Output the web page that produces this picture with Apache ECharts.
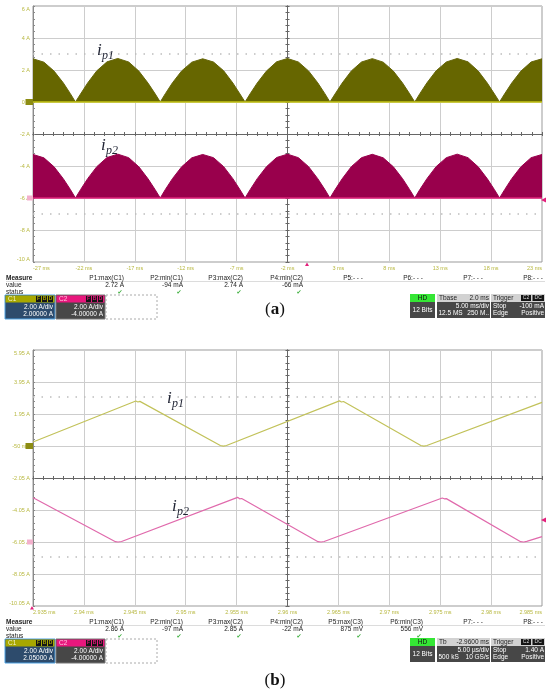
<!DOCTYPE html>
<html>
<head>
<meta charset="utf-8">
<script src="https://cdn.jsdelivr.net/npm/echarts@6/dist/echarts.min.js"></script>
<style>
html, body { margin: 0; padding: 0; background: #fff; }
#chart { width: 550px; height: 695px; }
</style>
</head>
<body>
<div id="chart"></div>
<script>
// tick labels (one per division)
var xTicksA = ['-27 ms', '-22 ms', '-17 ms', '-12 ms', '-7 ms', '-2 ms', '3 ms', '8 ms', '13 ms', '18 ms', '23 ms'];
var yTicksA = ['-10 A', '-8 A', '-6 A', '-4 A', '-2 A', '0 A', '2 A', '4 A', '6 A'];
var xTicksB = ['2.935 ms', '2.94 ms', '2.945 ms', '2.95 ms', '2.955 ms', '2.96 ms', '2.965 ms', '2.97 ms', '2.975 ms', '2.98 ms', '2.985 ms'];
var yTicksB = ['-10.05 A', '-8.05 A', '-6.05 A', '-4.05 A', '-2.05 A', '-50 mA', '1.95 A', '3.95 A', '5.95 A'];

// (a) envelope of the currents, [time ms, current A]
var ip1A = [
  [-27.00, 2.70], [-25.93, 2.49], [-24.93, 1.93], [-24.03, 1.20], [-23.33, 0.52], [-22.83, 0.00],
  [-22.33, 0.50], [-21.63, 1.19], [-20.73, 1.95], [-19.73, 2.51], [-18.67, 2.72], [-17.60, 2.50], [-16.60, 1.93], [-15.70, 1.18], [-15.00, 0.51], [-14.50, 0.00],
  [-14.00, 0.52], [-13.30, 1.20], [-12.40, 1.94], [-11.40, 2.49], [-10.33, 2.70], [-9.27, 2.50], [-8.27, 1.95], [-7.37, 1.19], [-6.67, 0.50], [-6.17, 0.00],
  [-5.67, 0.51], [-4.97, 1.19], [-4.07, 1.93], [-3.07, 2.51], [-2.00, 2.72], [-0.93, 2.50], [0.07, 1.94], [0.97, 1.20], [1.67, 0.52], [2.17, 0.00],
  [2.67, 0.50], [3.37, 1.18], [4.27, 1.94], [5.27, 2.50], [6.33, 2.71], [7.40, 2.49], [8.40, 1.93], [9.30, 1.19], [10.00, 0.51], [10.50, 0.00],
  [11.00, 0.52], [11.70, 1.20], [12.60, 1.95], [13.60, 2.50], [14.67, 2.72], [15.73, 2.51], [16.73, 1.94], [17.63, 1.18], [18.33, 0.50], [18.83, 0.00],
  [19.33, 0.51], [20.03, 1.19], [20.93, 1.93], [21.93, 2.50], [23.00, 2.70]
];
var ip2A = [
  [-27.00, 2.72], [-25.93, 2.51], [-24.93, 1.95], [-24.03, 1.21], [-23.33, 0.53], [-22.83, 0.00],
  [-22.33, 0.52], [-21.63, 1.21], [-20.73, 1.96], [-19.73, 2.53], [-18.67, 2.74], [-17.60, 2.52], [-16.60, 1.95], [-15.70, 1.20], [-15.00, 0.52], [-14.50, 0.00],
  [-14.00, 0.53], [-13.30, 1.21], [-12.40, 1.95], [-11.40, 2.51], [-10.33, 2.72], [-9.27, 2.52], [-8.27, 1.96], [-7.37, 1.21], [-6.67, 0.52], [-6.17, 0.00],
  [-5.67, 0.52], [-4.97, 1.21], [-4.07, 1.95], [-3.07, 2.53], [-2.00, 2.74], [-0.93, 2.52], [0.07, 1.96], [0.97, 1.21], [1.67, 0.53], [2.17, 0.00],
  [2.67, 0.52], [3.37, 1.20], [4.27, 1.96], [5.27, 2.52], [6.33, 2.73], [7.40, 2.51], [8.40, 1.95], [9.30, 1.21], [10.00, 0.52], [10.50, 0.00],
  [11.00, 0.53], [11.70, 1.21], [12.60, 1.96], [13.60, 2.52], [14.67, 2.74], [15.73, 2.52], [16.73, 1.95], [17.63, 1.20], [18.33, 0.52], [18.83, 0.00],
  [19.33, 0.52], [20.03, 1.21], [20.93, 1.95], [21.93, 2.52], [23.00, 2.72]
];

// (b) switching-period currents, [time ms, current A]
var ip1B = [
  [2.9350, 0.20], [2.9451, 2.76], [2.9452, 2.86], [2.9453, 2.70], [2.9454, 2.80], [2.9455, 2.74],
  [2.9534, -0.02], [2.9537, -0.06], [2.9540, -0.02],
  [2.9651, 2.77], [2.9652, 2.85], [2.9653, 2.70], [2.9654, 2.79], [2.9655, 2.73],
  [2.9731, -0.02], [2.9734, -0.06], [2.9737, -0.02], [2.9850, 2.68]
];
var ip2B = [
  [2.9350, 2.76], [2.9351, 2.85], [2.9352, 2.70], [2.9353, 2.75],
  [2.9431, 0.02], [2.94335, 0.00], [2.9437, 0.03],
  [2.9551, 2.79], [2.9552, 2.85], [2.9553, 2.70], [2.9554, 2.78], [2.9555, 2.72],
  [2.9630, 0.02], [2.9633, 0.00], [2.9636, 0.03],
  [2.9752, 2.75], [2.9753, 2.84], [2.9754, 2.70], [2.9755, 2.76], [2.9756, 2.71],
  [2.9829, 0.02], [2.9832, 0.00], [2.9835, 0.04], [2.9850, 0.34]
];

// measurement / status texts
var measNamesA = ['P1:max(C1)', 'P2:min(C1)', 'P3:max(C2)', 'P4:min(C2)', 'P5:- - -', 'P6:- - -', 'P7:- - -', 'P8:- - -'];
var measValsA = ['2.72 A', '-94 mA', '2.74 A', '-66 mA', '', '', '', ''];
var measNamesB = ['P1:max(C1)', 'P2:min(C1)', 'P3:max(C2)', 'P4:min(C2)', 'P5:max(C3)', 'P6:min(C3)', 'P7:- - -', 'P8:- - -'];
var measValsB = ['2.86 A', '-97 mA', '2.85 A', '-22 mA', '875 mV', '556 mV', '', ''];
var chanA = [['2.00 A/div', '2.00000 A'], ['2.00 A/div', '-4.00000 A']];
var chanB = [['2.00 A/div', '2.05000 A'], ['2.00 A/div', '-4.00000 A']];
var tbaseA = ['Tbase', '2.0 ms', '5.00 ms/div', '12.5 MS', '250 M..'];
var tbaseB = ['Tb', '-2.9600 ms', '5.00 \u00b5s/div', '500 kS', '10 GS/s'];
var trigA = ['-100 mA', 'Positive'];
var trigB = ['1.40 A', 'Positive'];

// scope scales: offset of C2 zero, time/amp per division
var panelA = { t0: -27, tDiv: 5, v0: -10, vDiv: 2, c2Zero: -6 };
var panelB = { t0: 2.935, tDiv: 0.005, v0: -10.05, vDiv: 2, c2Zero: -6.05 };

var FONT = 'Liberation Sans';
var LBL = '#b8b840';

function toDiv(p, pts, zero) {
    return pts.map(function (d) {
        var x = Math.round((d[0] - p.t0) / p.tDiv * 10000) / 10000;
        return [x, (d[1] + zero - p.v0) / p.vDiv];
    });
}
function levelDiv(p, v) { return (v - p.v0) / p.vDiv; }

function xMain(grid, labels) {
    return {
        type: 'value', gridIndex: grid, min: 0, max: 10, interval: 1, position: 'bottom',
        axisLine: { show: false, onZero: false }, axisTick: { show: false },
        axisLabel: {
            fontSize: 5.5, color: LBL, margin: 3, fontFamily: FONT,
            alignMinLabel: 'left', alignMaxLabel: 'right',
            formatter: function (v) { return labels[Math.round(v)]; }
        },
        splitLine: { show: true, lineStyle: { color: '#cdcdcd', width: 1 } }
    };
}
function yMain(grid, labels) {
    return {
        type: 'value', gridIndex: grid, min: 0, max: 8, interval: 1, position: 'left',
        axisLine: { show: true, onZero: false, lineStyle: { color: '#8a8a8a' } },
        axisTick: { show: true, inside: true, length: 2, lineStyle: { color: '#8a8a8a' } },
        minorTick: { show: true, splitNumber: 5, length: 2, lineStyle: { color: '#8a8a8a' } },
        axisLabel: {
            fontSize: 5.5, color: LBL, margin: 3, fontFamily: FONT,
            verticalAlignMinLabel: 'bottom', verticalAlignMaxLabel: 'top',
            formatter: function (v) { return labels[Math.round(v)]; }
        },
        splitLine: { show: true, lineStyle: { color: '#cdcdcd', width: 1 } }
    };
}
function xCenter(grid, yIdx, inside) {
    return {
        type: 'value', gridIndex: grid, min: -5, max: 5, interval: 1, position: 'bottom',
        axisLine: { show: true, onZero: true, onZeroAxisIndex: yIdx, lineStyle: { color: '#666' } },
        axisTick: { show: true, inside: inside, length: 2, lineStyle: { color: '#666' } },
        minorTick: { show: true, splitNumber: 5, length: 2, lineStyle: { color: '#666' } },
        axisLabel: { show: false }, splitLine: { show: false }
    };
}
function yCenter(grid, xIdx, inside) {
    return {
        type: 'value', gridIndex: grid, min: -4, max: 4, interval: 1, position: 'left',
        axisLine: { show: true, onZero: true, onZeroAxisIndex: xIdx, lineStyle: { color: '#666' } },
        axisTick: { show: true, inside: inside, length: 2, lineStyle: { color: '#666' } },
        minorTick: { show: true, splitNumber: 5, length: 2, lineStyle: { color: '#666' } },
        axisLabel: { show: false }, splitLine: { show: false }
    };
}

function dotted(p) {
    var st = { color: '#bdbdbd', width: 1.5, type: [1.5, 7] };
    return [
        { yAxis: levelDiv(p, -2 + 5), lineStyle: st },
        { yAxis: levelDiv(p, -2 - 5 - (p.v0 + 10)), lineStyle: st }
    ];
}

// ---- graphic helpers
function T(x, y, s, o) {
    o = o || {};
    return {
        type: 'text', x: x, y: y, silent: true, z: 10,
        style: {
            text: s, fontSize: o.size || 6.5, fontFamily: o.font || FONT,
            fontWeight: o.weight || 'normal', fontStyle: o.style || 'normal',
            fill: o.fill || '#222', align: o.align || 'left', verticalAlign: 'middle'
        }
    };
}
function R(x, y, w, h, fill, stroke, dash) {
    return {
        type: 'rect', silent: true, z: 9, shape: { x: x, y: y, width: w, height: h },
        style: { fill: fill || 'none', stroke: stroke || null, lineWidth: 1, lineDash: dash || null }
    };
}
function tri(pts, color) {
    return { type: 'polygon', silent: true, z: 9, shape: { points: pts }, style: { fill: color } };
}

var colRight = [124, 183, 243, 303, 363, 423, 483, 543];
var els = [];

function footer(y0, names, vals, chan, tb, trig) {
    els.push(T(6, y0, 'Measure', { weight: 'bold' }));
    els.push(T(6, y0 + 7, 'value'));
    els.push(T(6, y0 + 14, 'status'));
    els.push({ type: 'line', silent: true, z: 9, shape: { x1: 6, y1: y0 + 3.5, x2: 545, y2: y0 + 3.5 }, style: { stroke: '#c4c4c4', lineWidth: 0.6 } });
    names.forEach(function (n, i) {
        els.push(T(colRight[i], y0, n, { align: 'right' }));
        if (vals[i]) {
            els.push(T(colRight[i], y0 + 7, vals[i], { align: 'right' }));
            els.push(T(colRight[i] - 4, y0 + 14, '\u2714', { align: 'center', size: 6, fill: '#3aae3a', font: 'DejaVu Sans' }));
        }
    });
    var by = y0 + 17;
    // C1
    els.push(R(5, by, 50, 24, '#2d4b6c', '#4ea2e2'));
    els.push(R(5.5, by + 0.5, 49, 7, '#a8a800'));
    els.push(T(8, by + 4, 'C1', { fill: '#f2f2c8' }));
    // C2
    els.push(R(56, by, 49, 24, '#474747', '#777'));
    els.push(R(56.5, by + 0.5, 48, 7, '#e8177d'));
    els.push(T(59, by + 4, 'C2', { fill: '#ffc4df' }));
    for (var k = 0; k < 3; k++) {
        els.push(R(36 + k * 6, by + 1, 5, 6, '#151515'));
        els.push(T(38.5 + k * 6, by + 4, 'FBD'[k], { size: 5, weight: 'bold', align: 'center', fill: '#a8a800' }));
        els.push(R(86 + k * 6, by + 1, 5, 6, '#151515'));
        els.push(T(88.5 + k * 6, by + 4, 'FBD'[k], { size: 5, weight: 'bold', align: 'center', fill: '#e8177d' }));
    }
    els.push(T(53, by + 12, chan[0][0], { fill: '#fff', align: 'right' }));
    els.push(T(53, by + 19, chan[0][1], { fill: '#fff', align: 'right' }));
    els.push(T(103, by + 12, chan[1][0], { fill: '#fff', align: 'right' }));
    els.push(T(103, by + 19, chan[1][1], { fill: '#fff', align: 'right' }));
    els.push(R(106, by, 51, 24, null, '#aaa', [2, 2]));

    var b2 = by - 1;
    // HD
    els.push(R(410, b2, 25, 8, '#35e635'));
    els.push(T(422.5, b2 + 4, 'HD', { align: 'center', fill: '#111' }));
    els.push(R(410, b2 + 8, 25, 16, '#474747'));
    els.push(T(422.5, b2 + 16, '12 Bits', { align: 'center', fill: '#fff' }));
    // time base
    els.push(R(437, b2, 53, 8, '#d2d2d2'));
    els.push(T(439, b2 + 4, tb[0]));
    els.push(T(489, b2 + 4, tb[1], { align: 'right' }));
    els.push(R(437, b2 + 8, 53, 16, '#474747'));
    els.push(T(489, b2 + 12, tb[2], { align: 'right', fill: '#fff' }));
    els.push(T(438.5, b2 + 19.5, tb[3], { fill: '#fff' }));
    els.push(T(489, b2 + 19.5, tb[4], { align: 'right', fill: '#fff' }));
    // trigger
    els.push(R(491, b2, 54, 8, '#d2d2d2'));
    els.push(T(493, b2 + 4, 'Trigger'));
    els.push(R(521, b2 + 1, 10, 6, '#151515'));
    els.push(T(526, b2 + 4, 'C2', { size: 5, align: 'center', fill: '#ddd' }));
    els.push(R(532.5, b2 + 1, 11.5, 6, '#151515'));
    els.push(T(538.2, b2 + 4, 'DC', { size: 5, align: 'center', fill: '#ddd' }));
    els.push(R(491, b2 + 8, 54, 16, '#474747'));
    els.push(T(493, b2 + 12, 'Stop', { fill: '#fff' }));
    els.push(T(544, b2 + 12, trig[0], { align: 'right', fill: '#fff' }));
    els.push(T(493, b2 + 19.5, 'Edge', { fill: '#fff' }));
    els.push(T(544, b2 + 19.5, trig[1], { align: 'right', fill: '#fff' }));
}

function caption(y, letter) {
    els.push({
        type: 'text', x: 275, y: y, silent: true, z: 10,
        style: {
            text: '{n|(}{b|' + letter + '}{n|)}', align: 'center', verticalAlign: 'middle',
            rich: {
                n: { fontSize: 17, fontFamily: 'Liberation Serif', fill: '#111' },
                b: { fontSize: 17, fontFamily: 'Liberation Serif', fontWeight: 'bold', fill: '#111' }
            }
        }
    });
}
function ipLabel(x, y, sub) {
    els.push(T(x, y, 'i', { font: 'Liberation Serif', style: 'italic', size: 17, fill: '#1e2232' }));
    els.push(T(x + 5, y + 5, sub, { font: 'Liberation Serif', style: 'italic', size: 12, fill: '#1e2232' }));
}

footer(278, measNamesA, measValsA, chanA, tbaseA, trigA);
footer(622, measNamesB, measValsB, chanB, tbaseB, trigB);
caption(310, 'a');
caption(681, 'b');
ipLabel(97, 51, 'p1');
ipLabel(101, 146, 'p2');
ipLabel(167, 399, 'p1');
ipLabel(172, 507, 'p2');

// channel / trigger markers
els.push(R(25.5, 99, 7.5, 6, '#8c8c12'));
els.push(R(27, 195.5, 6, 5, '#f3b0cc'));
els.push(tri([[541, 200], [546, 197.5], [546, 202.5]], '#e3207c'));
els.push(tri([[307, 262.5], [305, 266], [309, 266]], '#e3207c'));
els.push(R(25.5, 443, 7.5, 6, '#8c8c12'));
els.push(R(27, 539.5, 6, 5, '#f3b0cc'));
els.push(tri([[541, 520], [546, 517.5], [546, 522.5]], '#e3207c'));
els.push(tri([[32, 606], [30, 609.5], [34, 609.5]], '#e3207c'));

var chart = echarts.init(document.getElementById('chart'));
var option = {
    animation: false,
    backgroundColor: '#fff',
    grid: [
        { left: 33, top: 6, width: 509, height: 256, show: true, borderColor: '#9a9a9a', borderWidth: 1 },
        { left: 33, top: 350, width: 509, height: 256, show: true, borderColor: '#9a9a9a', borderWidth: 1 }
    ],
    xAxis: [
        xMain(0, xTicksA), xCenter(0, 1, true), xCenter(0, 1, false),
        xMain(1, xTicksB), xCenter(1, 4, true), xCenter(1, 4, false)
    ],
    yAxis: [
        yMain(0, yTicksA), yCenter(0, 1, true), yCenter(0, 1, false),
        yMain(1, yTicksB), yCenter(1, 4, true), yCenter(1, 4, false)
    ],
    series: [
        {
            name: 'ip1 (a)', type: 'line', xAxisIndex: 0, yAxisIndex: 0,
            data: toDiv(panelA, ip1A, 0), showSymbol: false, silent: true,
            lineStyle: { color: '#66660a', width: 1 },
            areaStyle: { color: '#666600', opacity: 1, origin: levelDiv(panelA, 0) },
            markLine: {
                silent: true, symbol: 'none', label: { show: false },
                data: [{ yAxis: levelDiv(panelA, 0), lineStyle: { color: '#c6c614', width: 1.5, type: 'solid' } }].concat(dotted(panelA))
            }
        },
        {
            name: 'ip2 (a)', type: 'line', xAxisIndex: 0, yAxisIndex: 0,
            data: toDiv(panelA, ip2A, panelA.c2Zero), showSymbol: false, silent: true,
            lineStyle: { color: '#99004c', width: 1 },
            areaStyle: { color: '#99004c', opacity: 1, origin: levelDiv(panelA, panelA.c2Zero) },
            markLine: {
                silent: true, symbol: 'none', label: { show: false },
                data: [{ yAxis: levelDiv(panelA, panelA.c2Zero), lineStyle: { color: '#e0207a', width: 1.5, type: 'solid' } }]
            }
        },
        {
            name: 'ip1 (b)', type: 'line', xAxisIndex: 3, yAxisIndex: 3,
            data: toDiv(panelB, ip1B, 0), showSymbol: false, silent: true,
            lineStyle: { color: '#c2c25a', width: 1.2 },
            markLine: {
                silent: true, symbol: 'none', label: { show: false },
                data: dotted(panelB)
            }
        },
        {
            name: 'ip2 (b)', type: 'line', xAxisIndex: 3, yAxisIndex: 3,
            data: toDiv(panelB, ip2B, panelB.c2Zero), showSymbol: false, silent: true,
            lineStyle: { color: '#e06aac', width: 1.2 }
        }
    ],
    graphic: els
};
chart.setOption(option);
</script>
</body>
</html>
